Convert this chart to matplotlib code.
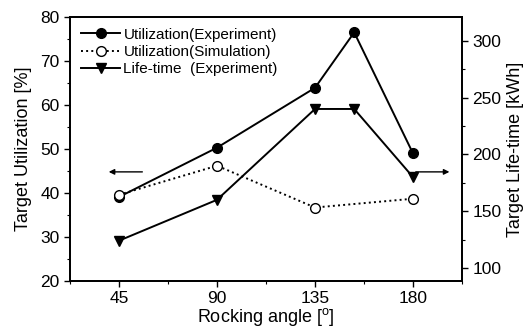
import matplotlib
matplotlib.use("Agg")
from matplotlib import pyplot as plt
from matplotlib.ticker import MultipleLocator

plt.rcParams['font.family'] = ['Liberation Sans', 'DejaVu Sans']
plt.rcParams['mathtext.fontset'] = 'custom'
plt.rcParams['mathtext.rm'] = 'Liberation Sans'

# 数据
angle_exp = [45, 90, 135, 153, 180]
util_exp = [39.1, 50.3, 63.9, 76.5, 49.0]
angle_sim = [45, 90, 135, 180]
util_sim = [39.6, 46.2, 36.7, 38.7]
life_exp = [124, 160, 240, 240, 180]
xticks = [45, 90, 135, 180]

fig = plt.figure(figsize=(5.27, 3.3), dpi=100)
ax = fig.add_axes([70 / 527, 1 - 281 / 330, 392 / 527, 264 / 330])
ax2 = ax.twinx()

l1, = ax.plot(angle_exp, util_exp, '-o', color='black', lw=1.4, ms=7,
              label='Utilization(Experiment)')
l2, = ax.plot(angle_sim, util_sim, ':o', color='black', lw=1.4, ms=7,
              mfc='white', label='Utilization(Simulation)')
l3, = ax2.plot(angle_exp, life_exp, '-v', color='black', lw=1.4, ms=7.5,
               label='Life-time  (Experiment)')

ax.set_xlim(22.5, 202.5)
ax.set_ylim(20, 80)
ax2.set_ylim(88.5, 321)
ax.set_xticks(xticks)
ax.xaxis.set_minor_locator(MultipleLocator(22.5))
ax.yaxis.set_major_locator(MultipleLocator(10))
ax.yaxis.set_minor_locator(MultipleLocator(5))
ax2.yaxis.set_major_locator(MultipleLocator(50))
ax2.yaxis.set_minor_locator(MultipleLocator(25))

for a in (ax, ax2):
    a.tick_params(which='major', length=4, width=1, labelsize=12.5, direction='out')
    a.tick_params(which='minor', length=2.5, width=0.8, direction='out')
    for s in a.spines.values():
        s.set_linewidth(1.3)

ax.set_xlabel('Rocking angle [$^{\\mathrm{o}}$]', fontsize=13, labelpad=0)
ax.set_ylabel('Target Utilization [%]', fontsize=13, labelpad=6)
ax2.set_ylabel('Target Life-time [kWh]', fontsize=13, labelpad=4)

# 箭头
ax.annotate('', xy=(39, 44.8), xytext=(57, 44.8),
            arrowprops=dict(arrowstyle='-|>', color='black', lw=1, mutation_scale=8))
ax.annotate('', xy=(198, 44.8), xytext=(180, 44.8),
            arrowprops=dict(arrowstyle='-|>', color='black', lw=1, mutation_scale=8))

ax.legend(handles=[l1, l2, l3], loc='upper left', frameon=False, fontsize=11,
          handlelength=2.6, handletextpad=0.2, labelspacing=0.22,
          borderaxespad=0.4, borderpad=0.3)

plt.savefig('out.png', dpi=100)
